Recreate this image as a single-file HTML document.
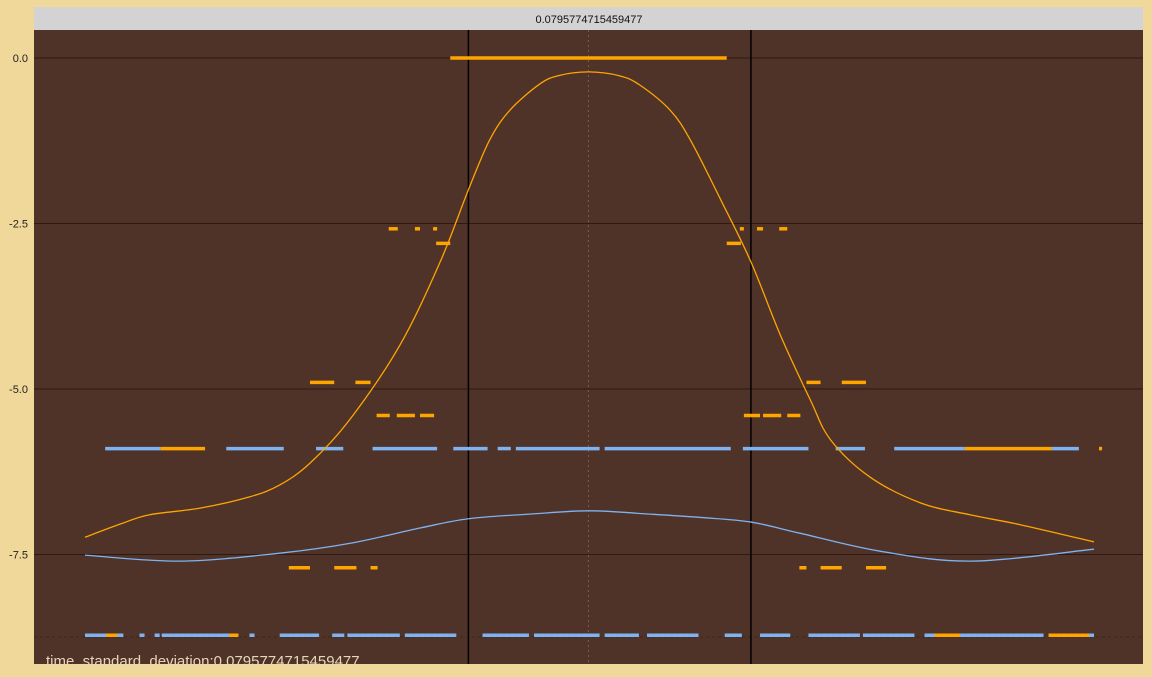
<!DOCTYPE html>
<html><head><meta charset="utf-8"><style>
body{margin:0;width:1152px;height:672px;background:#f0d89a;overflow:hidden;font-family:"Liberation Sans",sans-serif}
</style></head><body>
<svg id="c" width="1152" height="672" xmlns="http://www.w3.org/2000/svg">
<rect x="34" y="7" width="1109" height="23" fill="#d3d3d3"/>
<text x="589" y="23" font-size="11" text-anchor="middle" fill="#111">0.0795774715459477</text>
<rect x="34" y="30" width="1109" height="634" fill="#4f3328"/>
<g id="grid"></g><g id="marks"></g>
<text x="46" y="666" font-size="15" fill="#e8d6b8">time_standard_deviation:0.0795774715459477</text>
</svg>
<script>
const yTicks=[0,-2.5,-5,-7.5];
const yTickLabels=["0.0","-2.5","-5.0","-7.5"];
const vlines=[380,660];
const centerX=499;
const orangeCurveX=[0,35,64,114,163,193,223,262,312,352,380,401,421,451,471,500,530,550,580,600,630,660,689,719,739,778,828,877,927,1000];
const orangeCurveY=[-7.24,-7.04,-6.9,-6.8,-6.63,-6.45,-6.12,-5.47,-4.34,-3.08,-1.99,-1.24,-0.79,-0.39,-0.26,-0.21,-0.27,-0.41,-0.79,-1.24,-2.14,-3.08,-4.18,-5.17,-5.77,-6.33,-6.72,-6.9,-7.05,-7.31];
const blueCurveX=[0,94,193,263,332,380,441,500,560,610,660,709,788,878,1000];
const blueCurveY=[-7.51,-7.6,-7.48,-7.33,-7.1,-6.96,-6.89,-6.84,-6.89,-6.94,-7.01,-7.18,-7.45,-7.6,-7.42];
const orangeSegs=[[0,362,636],[-2.58,301,310],[-2.58,327,332],[-2.58,345,349],[-2.58,649,653],[-2.58,666,672],[-2.58,688,696],
[-2.8,348,362],[-2.8,636,650],[-4.9,223,247],[-4.9,268,283],[-4.9,715,729],[-4.9,750,774],
[-5.4,289,302],[-5.4,309,327],[-5.4,332,346],[-5.4,653,669],[-5.4,672,690],[-5.4,696,709],
[-7.7,202,223],[-7.7,247,269],[-7.7,283,290],[-7.7,708,715],[-7.7,729,750],[-7.7,774,794]];
const blueRow1=[[20,75],[140,197],[229,256],[285,349],[365,399],[409,422],[427,510],[515,640],[652,717],[744,773],[802,872],[958,985]];
const orangeRow1=[[75,119],[872,958],[1005,1008]];
const blueRow2=[[0,38],[54,59],[69,74],[76,152],[163,168],[193,232],[245,257],[260,312],[317,368],[394,440],[445,510],[515,549],[557,608],[634,651],[669,699],[717,768],[771,822],[832,950],[955,1000]];
const orangeRow2=[[21,32],[143,152],[842,867],[955,995]];
const row1Y=-5.9,row2Y=-8.72;
const X=v=>85+v*1.009, Y=v=>58-v*66.2;
const ns="http://www.w3.org/2000/svg";
const g=document.getElementById('grid'),m=document.getElementById('marks');
function el(t,a,p){const e=document.createElementNS(ns,t);for(const k in a)e.setAttribute(k,a[k]);p.appendChild(e);return e;}
yTicks.forEach((t,i)=>{
 const l=el('line',{x1:34,x2:1143,y1:Y(t),y2:Y(t),stroke:'#2e1a12','stroke-width':1},g);
 
 
 const tx=el('text',{x:28,y:Y(t)+4,'font-size':11,'text-anchor':'end',fill:'#222'},g);
 tx.textContent=yTickLabels[i];
 
 
});
const dl=el('line',{x1:34,x2:1143,y1:637,y2:637,stroke:'#3e271d','stroke-dasharray':'3,3'},g);


const cl=el('line',{x1:X(centerX),x2:X(centerX),y1:30,y2:664,stroke:'#7a5a4a','stroke-dasharray':'2,3'},g);


vlines.forEach(v=>{const l=el('line',{x1:X(v),x2:X(v),y1:30,y2:664,stroke:'#000','stroke-width':1.5},g);
 
 });
function seg(y,a,b,c,n){const l=el('line',{x1:X(a),x2:X(b),y1:Y(y),y2:Y(y),stroke:c,'stroke-width':3.5},m);
 
 }
blueRow1.forEach(s=>seg(row1Y,s[0],s[1],'#7fb2f0','blue-segment'));
orangeRow1.forEach(s=>seg(row1Y,s[0],s[1],'#ffa500','orange-segment'));
blueRow2.forEach(s=>seg(row2Y,s[0],s[1],'#7fb2f0','blue-segment'));
orangeRow2.forEach(s=>seg(row2Y,s[0],s[1],'#ffa500','orange-segment'));
orangeSegs.forEach(s=>seg(s[0],s[1],s[2],'#ffa500','orange-segment'));
function curve(xs,ys,c,n){
 const pts=xs.map((x,i)=>[X(x),Y(ys[i])]);
 let d='M'+pts[0];
 for(let i=0;i<pts.length-1;i++){const p0=pts[i-1]||pts[i],p1=pts[i],p2=pts[i+1],p3=pts[i+2]||p2;
  d+=` C${p1[0]+(p2[0]-p0[0])/6},${p1[1]+(p2[1]-p0[1])/6} ${p2[0]-(p3[0]-p1[0])/6},${p2[1]-(p3[1]-p1[1])/6} ${p2[0]},${p2[1]}`;}
 const p=el('path',{d:d,fill:'none',stroke:c,'stroke-width':1.3},m);
 
 }
curve(orangeCurveX,orangeCurveY,'#ffa500','orange-density-curve');
curve(blueCurveX,blueCurveY,'#7fb2f0','blue-density-curve');
</script>
</body></html>
